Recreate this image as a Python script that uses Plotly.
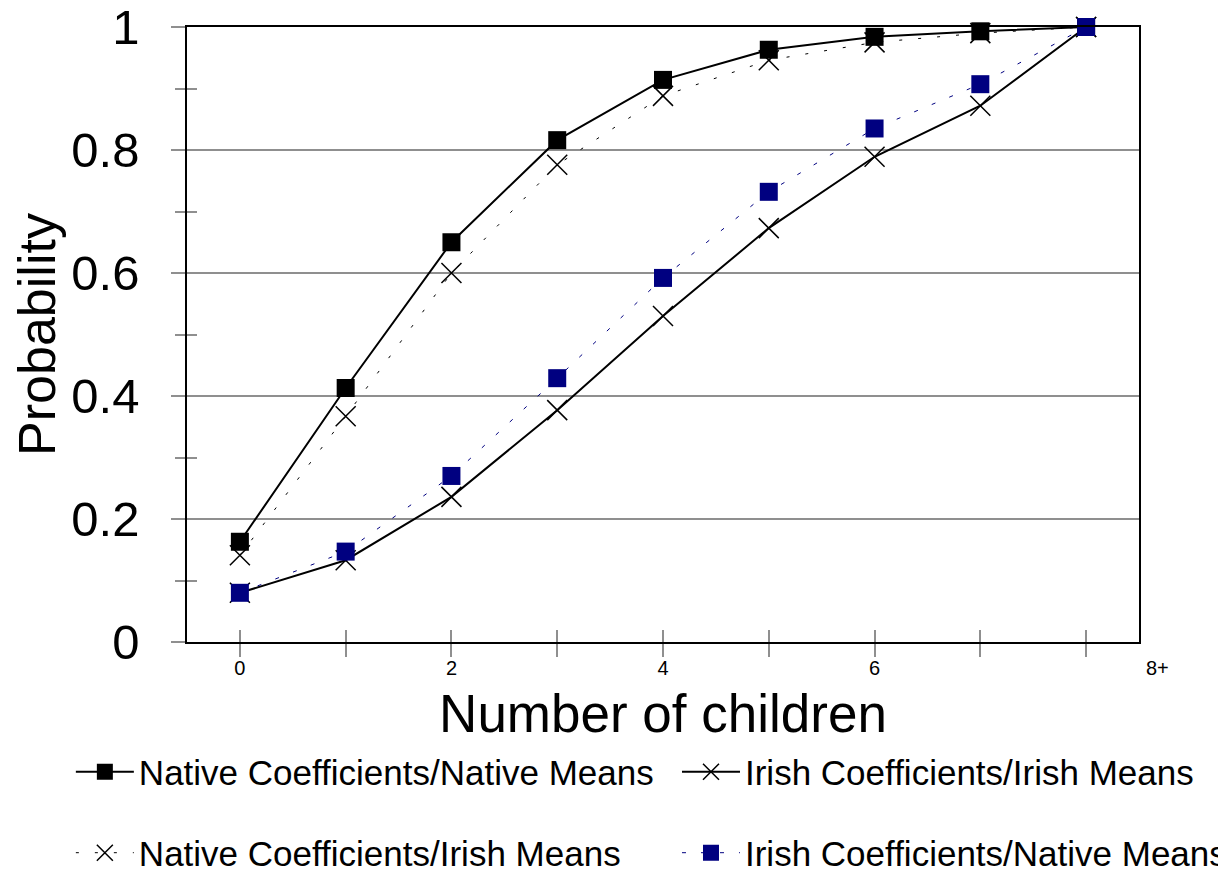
import plotly.graph_objects as go

children = [0, 1, 2, 3, 4, 5, 6, 7, 8]
x_tick_vals = [0, 2, 4, 6]
x_tick_text = ["0", "2", "4", "6"]
last_label = "8+"

native_native = [0.163, 0.413, 0.650, 0.816, 0.914, 0.963, 0.984, 0.993, 1.0]
irish_irish = [0.080, 0.133, 0.236, 0.377, 0.530, 0.673, 0.789, 0.872, 1.0]
native_irish = [0.141, 0.367, 0.600, 0.776, 0.888, 0.946, 0.975, 0.990, 1.0]
irish_native = [0.080, 0.147, 0.270, 0.429, 0.592, 0.732, 0.835, 0.907, 1.0]

FONT = "Arial, Liberation Sans, sans-serif"
GRAY = "#8f8f8f"

fig = go.Figure()

fig.add_trace(go.Scatter(
    x=children, y=irish_irish, name="Irish Coefficients/Irish Means",
    mode="lines+markers", line=dict(color="black", width=2),
    marker=dict(symbol="x-thin", size=20, line=dict(color="black", width=1.5)),
    cliponaxis=False, legend="legend2"))
fig.add_trace(go.Scatter(
    x=children, y=native_irish, name="Native Coefficients/Irish Means",
    mode="lines+markers", line=dict(color="black", width=1, dash="3px,16px"),
    marker=dict(symbol="x-thin", size=20, line=dict(color="black", width=1.5)),
    cliponaxis=False, legend="legend3"))
fig.add_trace(go.Scatter(
    x=children, y=native_native, name="Native Coefficients/Native Means",
    mode="lines+markers", line=dict(color="black", width=2),
    marker=dict(symbol="square", size=18, color="black"),
    cliponaxis=False, legend="legend"))
fig.add_trace(go.Scatter(
    x=children, y=irish_native, name="Irish Coefficients/Native Means",
    mode="lines+markers", line=dict(color="#000080", width=1, dash="4px,15px"),
    marker=dict(symbol="square", size=18, color="#000080"),
    cliponaxis=False, legend="legend4"))

# invisible trace to activate overlay axes (inner half of crossing ticks)
fig.add_trace(go.Scatter(x=[None], y=[None], xaxis="x2", yaxis="y2",
                         showlegend=False, hoverinfo="skip"))

legend_common = dict(orientation="h", xanchor="left", yanchor="middle",
                     font=dict(size=35, family=FONT), itemwidth=58,
                     bgcolor="rgba(0,0,0,0)")
col1_x, col2_x = -0.122, 0.5147
row1_y, row2_y = -0.2114, -0.343

fig.update_layout(
    width=1218, height=861,
    margin=dict(l=179, r=87, t=19, b=227, autoexpand=False),
    paper_bgcolor="white", plot_bgcolor="white",
    font=dict(family=FONT, color="black"),
    xaxis=dict(
        range=[-0.5, 8.5], tickvals=x_tick_vals, ticktext=x_tick_text,
        ticks="outside", ticklen=13, tickcolor=GRAY, tickwidth=1.5,
        minor=dict(tickvals=[1, 3, 5, 7, 8], ticks="outside", ticklen=13,
                   tickcolor=GRAY, tickwidth=1.5),
        tickfont=dict(size=20), ticklabelstandoff=-6,
        showgrid=False, zeroline=False, automargin=False,
        showline=True, linecolor="black", linewidth=1.5, mirror=True,
        title=dict(text="Number of children", font=dict(size=53), standoff=17),
    ),
    yaxis=dict(
        range=[0, 1], tickvals=[0, 0.2, 0.4, 0.6, 0.8, 1],
        ticktext=["0", "0.2", "0.4", "0.6", "0.8", "1"],
        ticks="outside", ticklen=14, tickcolor=GRAY, tickwidth=1.5,
        minor=dict(dtick=0.1, ticks="outside", ticklen=10, tickcolor=GRAY,
                   tickwidth=1.5, showgrid=False),
        tickfont=dict(size=49), ticklabelstandoff=22, automargin=False,
        ticklabeloverflow="allow",
        showgrid=True, gridcolor=GRAY, gridwidth=1.5, zeroline=False,
        showline=True, linecolor="black", linewidth=1.5, mirror=True,
        title=dict(text="Probability", font=dict(size=52), standoff=12),
    ),
    xaxis2=dict(
        overlaying="x", anchor="y2", side="bottom", range=[-0.5, 8.5],
        tickvals=children, ticks="inside", ticklen=12, tickcolor=GRAY,
        tickwidth=1.5, showticklabels=False, showgrid=False, zeroline=False,
        showline=False, automargin=False,
    ),
    yaxis2=dict(
        overlaying="y", anchor="x2", side="left", range=[0, 1],
        tickvals=[0, 0.2, 0.4, 0.6, 0.8, 1], ticks="inside", ticklen=14,
        tickcolor=GRAY, tickwidth=1.5,
        minor=dict(dtick=0.1, ticks="inside", ticklen=10, tickcolor=GRAY,
                   tickwidth=1.5),
        showticklabels=False, showgrid=False, zeroline=False, showline=False,
        automargin=False,
    ),
    legend=dict(x=col1_x, y=row1_y, **legend_common),
    legend2=dict(x=col2_x, y=row1_y, **legend_common),
    legend3=dict(x=col1_x, y=row2_y, **legend_common),
    legend4=dict(x=col2_x, y=row2_y, **legend_common),
    annotations=[dict(text=last_label, x=1.0194, y=0, xref="paper", yref="paper",
                      yshift=-26, showarrow=False, font=dict(size=20),
                      xanchor="center", yanchor="middle")],
)

fig.write_html("out.html")
